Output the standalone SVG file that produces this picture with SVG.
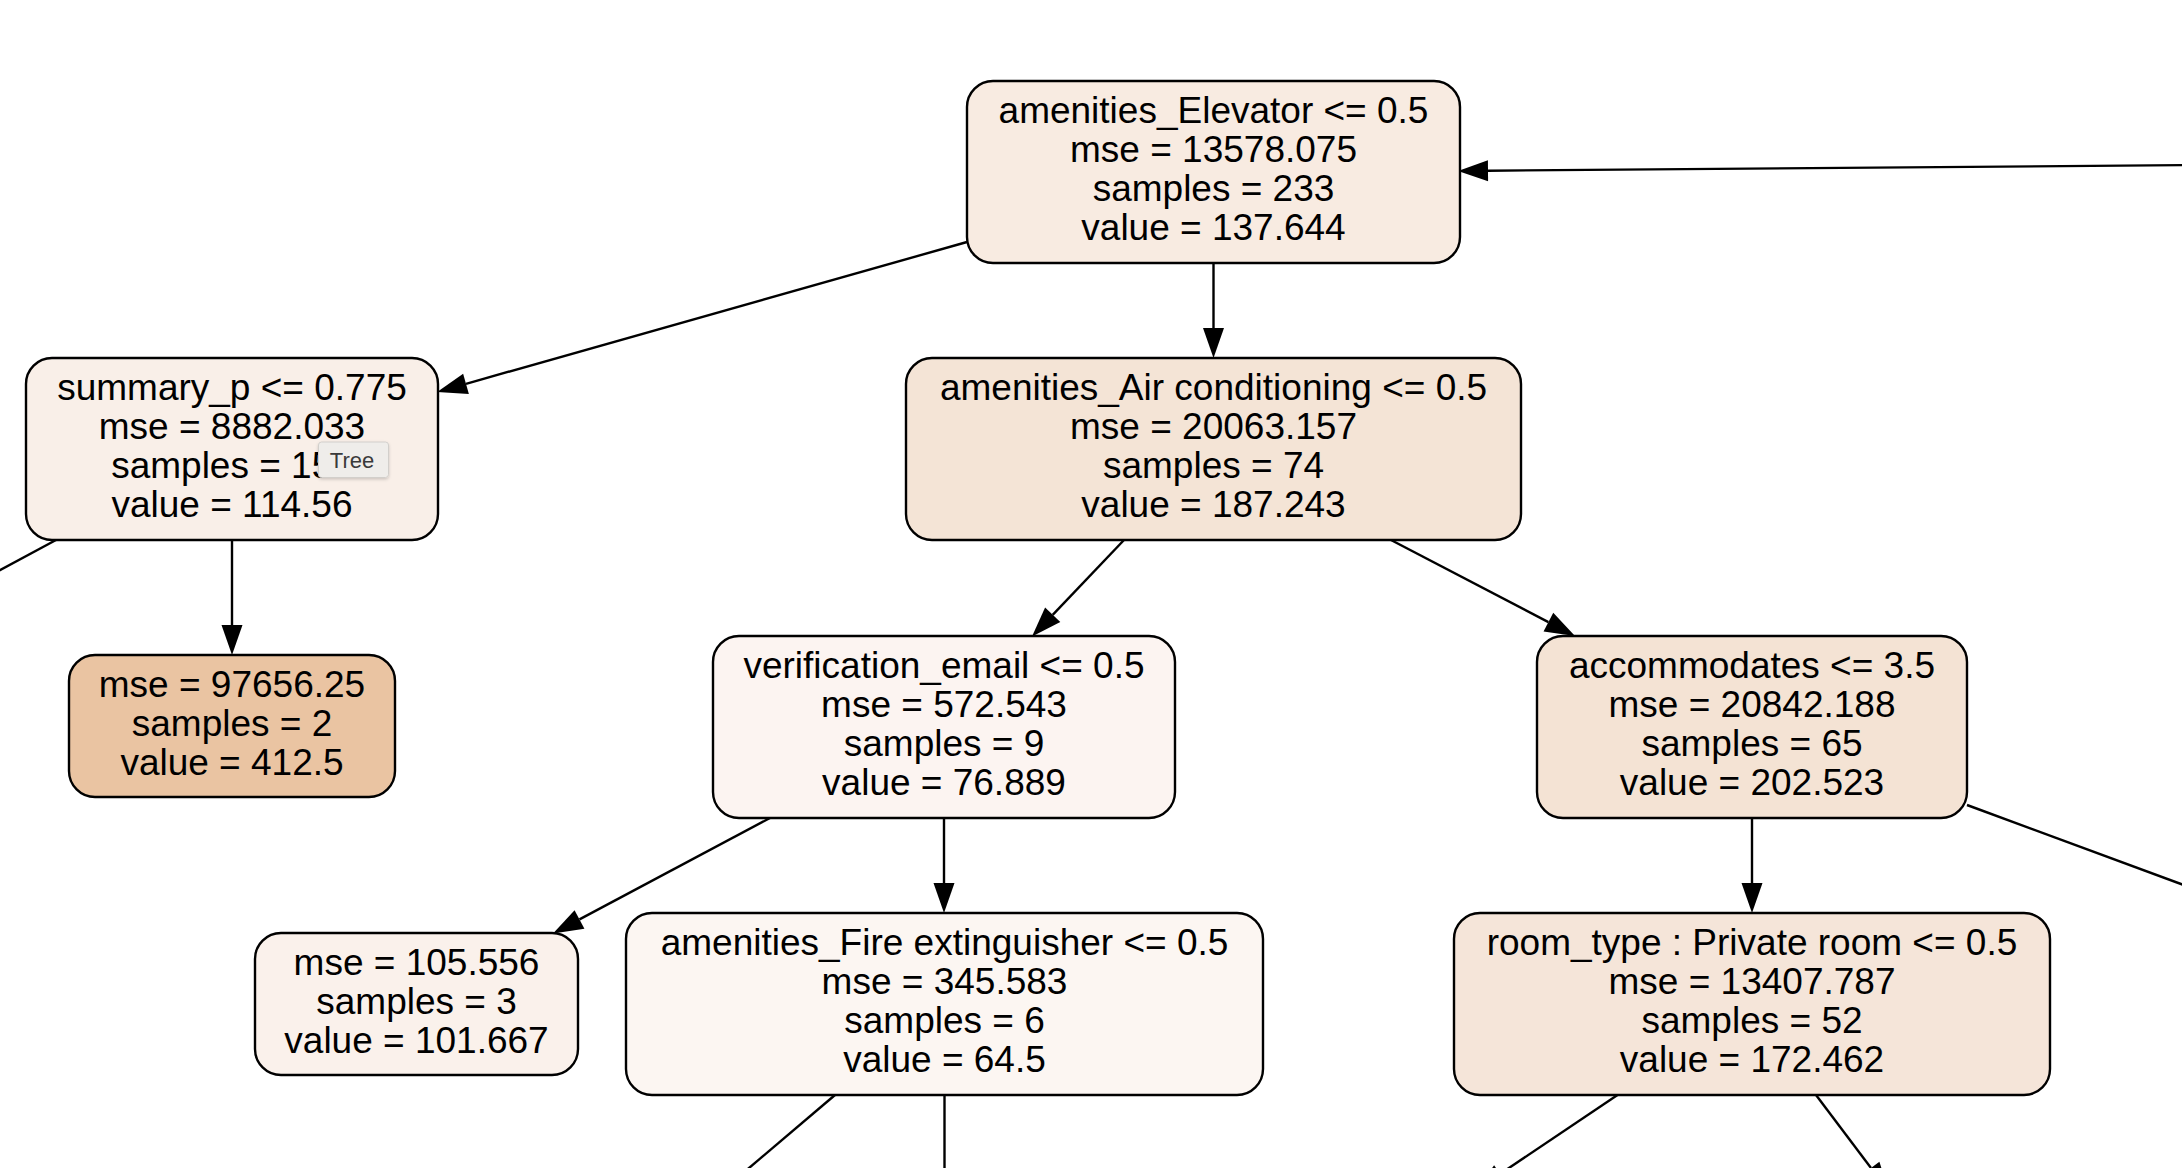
<svg xmlns="http://www.w3.org/2000/svg" width="2182" height="1168" viewBox="0 0 2182 1168">
  <style>
    .node rect { stroke: #000; stroke-width: 2.4; }
    .node text { font-family: "Liberation Sans", Arial, Helvetica, sans-serif; font-size: 37px; fill: #000; text-anchor: middle; }
    .edge { fill: none; stroke: #000; stroke-width: 2.4; }
    .arrow { marker-end: url(#head); }
    .tip rect { fill: #efedea; stroke: #d2cfcb; stroke-width: 1; }
    .tip text { font-family: "Liberation Sans", Arial, Helvetica, sans-serif; font-size: 22px; fill: #3a3a3a; text-anchor: middle; }
  </style>
  <defs>
    <marker id="head" markerUnits="userSpaceOnUse" viewBox="0 -11 31 22" markerWidth="31" markerHeight="22" refX="0" refY="0" orient="auto" overflow="visible">
      <path d="M0,-10.5 L30,0 L0,10.5 Z" fill="#000"/>
    </marker>
    <filter id="shadow" x="-20%" y="-20%" width="140%" height="160%">
      <feDropShadow dx="0" dy="1.5" stdDeviation="1.5" flood-color="#000" flood-opacity="0.18"/>
    </filter>
  </defs>
  <rect width="2182" height="1168" fill="#fff"/>

  <!-- connectors -->
  <g id="edges">
    <path class="edge arrow" d="M2200,165 L1488,170.7"/>
    <path class="edge arrow" d="M967,242 L466,383.8"/>
    <path class="edge arrow" d="M1213.5,263 L1213.5,328"/>
    <path class="edge arrow" d="M232,540 L232,625"/>
    <path class="edge" d="M56,540 L-20,581"/>
    <path class="edge arrow" d="M1124,540 L1052.7,614.8"/>
    <path class="edge arrow" d="M1391,540 L1548.4,622.1"/>
    <path class="edge arrow" d="M770,818 L579.5,919.4"/>
    <path class="edge arrow" d="M944,818 L944,883"/>
    <path class="edge arrow" d="M1752,818 L1752,883"/>
    <path class="edge" d="M1967,805 L2200,891"/>
    <path class="edge" d="M835,1095 L729,1185"/>
    <path class="edge" d="M944.5,1095 L944.5,1190"/>
    <path class="edge arrow" d="M1617.5,1095 L1500,1174"/>
    <path class="edge arrow" d="M1816,1095 L1871,1168"/>
  </g>

  <!-- tree nodes -->
  <g id="node-root" class="node">
    <rect x="967" y="81" width="493" height="182" rx="26" fill="#f8ebe1"/>
    <text x="1213.5" y="123">amenities_Elevator &lt;= 0.5</text>
    <text x="1213.5" y="162">mse = 13578.075</text>
    <text x="1213.5" y="201">samples = 233</text>
    <text x="1213.5" y="240">value = 137.644</text>
  </g>

  <g id="node-summary" class="node">
    <rect x="26" y="358" width="412" height="182" rx="26" fill="#f9efe8"/>
    <text x="232" y="400">summary_p &lt;= 0.775</text>
    <text x="232" y="439">mse = 8882.033</text>
    <text x="232" y="478">samples = 159</text>
    <text x="232" y="517">value = 114.56</text>
  </g>

  <g id="node-aircon" class="node">
    <rect x="906" y="358" width="615" height="182" rx="26" fill="#f4e4d6"/>
    <text x="1213.5" y="400">amenities_Air conditioning &lt;= 0.5</text>
    <text x="1213.5" y="439">mse = 20063.157</text>
    <text x="1213.5" y="478">samples = 74</text>
    <text x="1213.5" y="517">value = 187.243</text>
  </g>

  <g id="node-leaf-412" class="node">
    <rect x="69" y="655" width="326" height="142" rx="26" fill="#eac4a2"/>
    <text x="232" y="696.5">mse = 97656.25</text>
    <text x="232" y="735.5">samples = 2</text>
    <text x="232" y="774.5">value = 412.5</text>
  </g>

  <g id="node-verification" class="node">
    <rect x="713" y="636" width="462" height="182" rx="26" fill="#fcf4f1"/>
    <text x="944" y="678">verification_email &lt;= 0.5</text>
    <text x="944" y="717">mse = 572.543</text>
    <text x="944" y="756">samples = 9</text>
    <text x="944" y="795">value = 76.889</text>
  </g>

  <g id="node-accommodates" class="node">
    <rect x="1537" y="636" width="430" height="182" rx="26" fill="#f4e3d4"/>
    <text x="1752" y="678">accommodates &lt;= 3.5</text>
    <text x="1752" y="717">mse = 20842.188</text>
    <text x="1752" y="756">samples = 65</text>
    <text x="1752" y="795">value = 202.523</text>
  </g>

  <g id="node-leaf-101" class="node">
    <rect x="255" y="933" width="323" height="142" rx="26" fill="#faf1eb"/>
    <text x="416.5" y="974.5">mse = 105.556</text>
    <text x="416.5" y="1013.5">samples = 3</text>
    <text x="416.5" y="1052.5">value = 101.667</text>
  </g>

  <g id="node-fire" class="node">
    <rect x="626" y="913" width="637" height="182" rx="26" fill="#fcf6f2"/>
    <text x="944.5" y="955">amenities_Fire extinguisher &lt;= 0.5</text>
    <text x="944.5" y="994">mse = 345.583</text>
    <text x="944.5" y="1033">samples = 6</text>
    <text x="944.5" y="1072">value = 64.5</text>
  </g>

  <g id="node-roomtype" class="node">
    <rect x="1454" y="913" width="596" height="182" rx="26" fill="#f5e5d9"/>
    <text x="1752" y="955">room_type : Private room &lt;= 0.5</text>
    <text x="1752" y="994">mse = 13407.787</text>
    <text x="1752" y="1033">samples = 52</text>
    <text x="1752" y="1072">value = 172.462</text>
  </g>

  <!-- hover tooltip -->
  <g id="tooltip" class="tip">
    <rect x="318.5" y="442" width="70" height="35.5" rx="3" filter="url(#shadow)"/>
    <text x="352" y="467.5">Tree</text>
  </g>
</svg>
